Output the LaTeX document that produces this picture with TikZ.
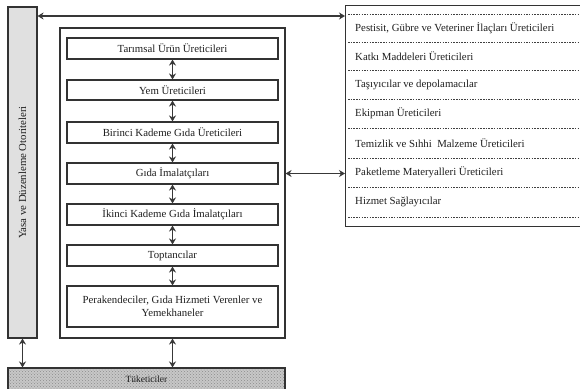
\documentclass[tikz,border=0pt]{standalone}
\usepackage{fontspec}
\setmainfont{Liberation Serif}
\usetikzlibrary{arrows.meta,patterns}
\begin{document}
\begin{tikzpicture}[x=1pt,y=-1pt,
  txt/.style={font=\fontsize{10.8}{13}\selectfont, text=black!88},
  box/.style={draw=black!80, line width=1.1pt, txt, inner sep=0pt},
  inbox/.style={box, minimum width=211pt, fill=white},
  dbl/.style={{Stealth[length=6pt,width=7pt]}-{Stealth[length=6pt,width=7pt]}, line width=1.4pt, draw=black!78},
  row/.style={txt, anchor=west, inner sep=0pt},
  sepline/.style={draw=black!75, line width=1pt, dash pattern=on 1.5pt off 1.2pt}
]
\useasboundingbox (0,0) rectangle (580,388);
\fill[white] (0,0) rectangle (580,388);

% left authority box
\node[box, fill=black!12, minimum width=29pt, minimum height=331pt] (law) at (22.5,172.5)
  {\rotatebox{90}{Yasa ve Düzenleme Otoriteleri}};

% central chain box
\node[box, minimum width=225pt, minimum height=310pt] (chain) at (172.5,183) {};
\node[inbox, minimum height=21pt] (b1) at (172.5,48.5) {Tarımsal Ürün Üreticileri};
\node[inbox, minimum height=20pt] (b2) at (172.5,90) {Yem Üreticileri};
\node[inbox, minimum height=21pt] (b3) at (172.5,132.5) {Birinci Kademe Gıda Üreticileri};
\node[inbox, minimum height=21pt] (b4) at (172.5,173.5) {Gıda İmalatçıları};
\node[inbox, minimum height=21pt] (b5) at (172.5,214.5) {İkinci Kademe Gıda İmalatçıları};
\node[inbox, minimum height=21pt] (b6) at (172.5,255.5) {Toptancılar};
\node[inbox, minimum height=41pt, align=center] (b7) at (172.5,306.5)
  {Perakendeciler, Gıda Hizmeti Verenler ve\\Yemekhaneler};

% consumers
\node[box, minimum width=277pt, minimum height=22pt,
  preaction={fill=black!22}, pattern=crosshatch dots, pattern color=black!45] (cons) at (146.5,379) {};
\node[txt, font=\fontsize{9.5}{11}\selectfont] (consl) at (cons.center) {Tüketiciler};

% supplier box
\node[draw=black!80, line width=1.3pt, minimum width=240pt, minimum height=221pt, inner sep=0pt, anchor=north west] (sup) at (345,5) {};
\draw[sepline] (348,14) -- (580,14);
\draw[sepline] (348,42) -- (580,42);
\draw[sepline] (348,70) -- (580,70);
\draw[sepline] (348,99) -- (580,99);
\draw[sepline] (348,128) -- (580,128);
\draw[sepline] (348,158) -- (580,158);
\draw[sepline] (348,187) -- (580,187);
\draw[sepline] (348,217) -- (580,217);
\node[row] (r1) at (355,28) {Pestisit, Gübre ve Veteriner İlaçları Üreticileri};
\node[row] (r2) at (355,56) {Katkı Maddeleri Üreticileri};
\node[row] (r3) at (355,85) {Taşıyıcılar ve depolamacılar};
\node[row] (r4) at (355,113) {Ekipman Üreticileri};
\node[row] (r5) at (355,143) {Temizlik ve Sıhhi\ \ Malzeme Üreticileri};
\node[row] (r6) at (355,172) {Paketleme Materyalleri Üreticileri};
\node[row] (r7) at (355,202) {Hizmet Sağlayıcılar};

% connectors
\coordinate (topy) at (0,16);
\draw[dbl] (law.east |- topy) -- (sup.west |- topy);
\draw[dbl] (chain.east |- b4) -- (sup.west |- b4);
\draw[dbl] (b1.south) -- (b2.north);
\draw[dbl] (b2.south) -- (b3.north);
\draw[dbl] (b3.south) -- (b4.north);
\draw[dbl] (b4.south) -- (b5.north);
\draw[dbl] (b5.south) -- (b6.north);
\draw[dbl] (b6.south) -- (b7.north);
\draw[dbl] (law.south) -- (law.south |- cons.north);
\draw[dbl] (chain.south) -- (chain.south |- cons.north);
\end{tikzpicture}
\end{document}
